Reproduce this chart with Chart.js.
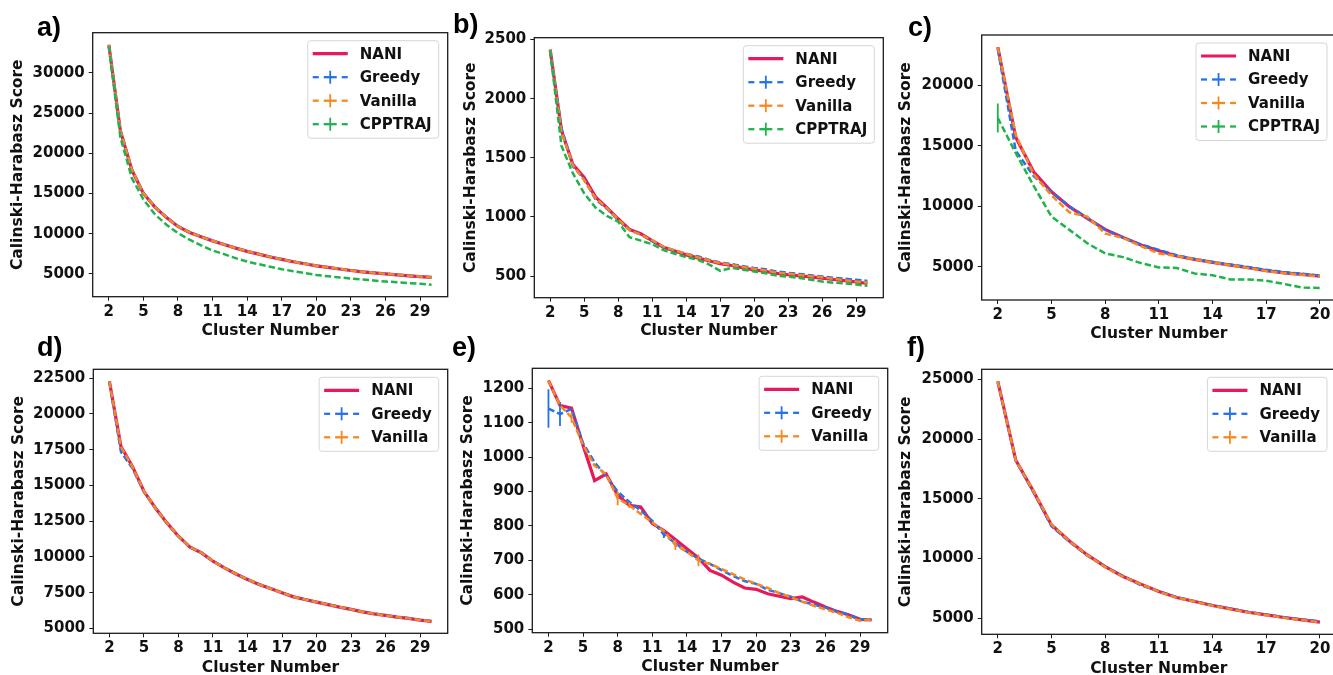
<!DOCTYPE html>
<html>
<head>
<meta charset="utf-8">
<script src="https://cdn.jsdelivr.net/npm/chart.js@4.4.1/dist/chart.umd.min.js"></script>
<style>
html,body{margin:0;padding:0;width:1333px;height:675px;overflow:hidden;background:#fff}
canvas{position:absolute}
.lbl{position:absolute;font-family:"Liberation Sans",Arial,sans-serif;font-weight:bold;font-size:27px;line-height:27px;color:#000;white-space:nowrap}
</style>
</head>
<body>
<script>
// ---------------- categories / ticks ----------------
const CLUSTERS_30 = [2,3,4,5,6,7,8,9,10,11,12,13,14,15,16,17,18,19,20,21,22,23,24,25,26,27,28,29,30];
const CLUSTERS_20 = [2,3,4,5,6,7,8,9,10,11,12,13,14,15,16,17,18,19,20];
const X_TICKS_30 = [2,5,8,11,14,17,20,23,26,29];
const X_TICKS_20 = [2,5,8,11,14,17,20];
const Y_TICKS_A = [5000,10000,15000,20000,25000,30000];
const Y_TICKS_B = [500,1000,1500,2000,2500];
const Y_TICKS_C = [5000,10000,15000,20000];
const Y_TICKS_D = [5000,7500,10000,12500,15000,17500,20000,22500];
const Y_TICKS_E = [500,600,700,800,900,1000,1100,1200];
const Y_TICKS_F = [5000,10000,15000,20000,25000];

// ---------------- panel a ----------------
const A_NANI    = [33500,22800,17900,15000,13300,12000,10900,10150,9600,9100,8650,8200,7800,7450,7100,6800,6500,6250,6000,5800,5600,5420,5250,5120,5000,4880,4750,4650,4550];
const A_GREEDY  = [33450,22900,18000,15050,13350,12050,10950,10200,9620,9120,8670,8220,7820,7470,7120,6820,6520,6270,6020,5820,5620,5440,5270,5140,5020,4900,4770,4670,4570];
const A_VANILLA = [33480,22850,17950,15020,13320,12020,10920,10170,9610,9110,8660,8210,7810,7460,7110,6810,6510,6260,6010,5810,5610,5430,5260,5130,5010,4890,4760,4660,4560];
const A_CPPTRAJ = [33300,22000,16900,14250,12400,11100,10050,9250,8550,7900,7450,6950,6530,6200,5880,5580,5330,5100,4870,4700,4560,4420,4300,4170,4050,3950,3850,3760,3650];

// ---------------- panel b ----------------
const B_NANI    = [2415,1730,1445,1335,1170,1080,985,895,858,800,745,712,680,655,630,605,590,570,553,540,523,512,503,494,483,472,462,452,438];
const B_GREEDY  = [2405,1750,1430,1320,1150,1070,975,890,852,795,745,715,690,668,640,615,602,585,570,558,540,528,518,508,497,487,478,470,460];
const B_VANILLA = [2410,1720,1440,1310,1160,1075,980,888,850,805,750,718,688,660,635,610,595,578,562,548,530,520,510,500,490,478,466,455,445];
const B_CPPTRAJ = [2405,1600,1370,1200,1080,1010,960,830,800,770,720,690,660,640,600,545,570,555,540,525,505,495,485,470,455,445,440,430,418];

// ---------------- panel c ----------------
const C_NANI    = [23160,15700,12850,11200,9960,9000,8090,7430,6800,6330,5890,5610,5360,5140,4920,4680,4500,4370,4230];
const C_GREEDY  = [23000,14600,12500,11150,10000,9050,8050,7400,6850,6400,5950,5650,5400,5180,4980,4750,4560,4420,4280];
const C_VANILLA = [23150,15900,12650,10900,9500,9150,7750,7380,6700,6100,5900,5620,5350,5120,4900,4650,4480,4340,4200];
const C_CPPTRAJ = [17300,14400,11700,9150,8050,6950,6100,5800,5300,4950,4900,4450,4300,3950,3950,3850,3580,3280,3250];
const C_CPPTRAJ_ERR = [1200,0,0,0,0,0,0,0,0,0,0,0,0,0,0,0,0,0,0];

// ---------------- panel d ----------------
const D_NANI    = [22280,17730,16330,14590,13420,12380,11450,10680,10280,9700,9230,8810,8420,8070,7790,7490,7210,7020,6840,6670,6490,6330,6160,6020,5910,5790,5700,5580,5500];
const D_GREEDY  = [22250,17350,16200,14550,13400,12350,11430,10700,10300,9720,9240,8830,8440,8090,7800,7500,7220,7030,6850,6680,6500,6340,6170,6030,5920,5800,5710,5590,5510];
const D_VANILLA = [22270,17700,16300,14600,13410,12370,11440,10690,10290,9710,9235,8820,8430,8080,7795,7495,7215,7025,6845,6675,6495,6335,6165,6025,5915,5795,5705,5585,5505];

// ---------------- panel e ----------------
const E_NANI    = [1223,1150,1142,1034,932,951,889,860,855,807,787,761,734,707,671,657,637,620,616,603,596,589,594,579,565,552,542,529,527];
const E_GREEDY  = [1141,1125,1140,1040,985,945,900,870,845,815,775,750,725,705,690,672,655,640,632,615,605,595,580,572,563,552,542,530,528];
const E_GREEDY_ERR  = [56,35,0,0,0,0,0,0,0,0,10,0,0,0,0,0,0,0,0,0,0,0,0,0,0,0,0,0,0];
const E_VANILLA = [1222,1150,1115,1035,975,950,880,860,835,810,785,745,725,700,690,675,660,645,632,620,605,593,580,568,558,548,535,525,528];
const E_VANILLA_ERR = [0,0,15,0,0,0,20,8,0,0,0,15,0,17,0,0,0,0,0,0,0,0,0,0,0,0,0,0,0];

// ---------------- panel f ----------------
const F_NANI    = [24830,18250,15600,12810,11470,10300,9320,8490,7850,7230,6730,6400,6060,5780,5500,5280,5060,4860,4670];
const F_GREEDY  = [24800,18200,15550,12700,11400,10250,9300,8520,7750,7250,6760,6420,6080,5800,5520,5300,5080,4890,4750];
const F_VANILLA = [24820,18230,15620,12850,11450,10280,9280,8470,7840,7220,6720,6390,6040,5760,5480,5260,5040,4850,4660];

// ---------------- styles ----------------
const STYLE = {
  'NANI':    {color:'#e6195a', width:3.2, dash:[],      order:4},
  'Greedy':  {color:'#2471e8', width:2.5, dash:[6.5,3], order:3},
  'Vanilla': {color:'#f5881f', width:2.5, dash:[6.5,3], order:2},
  'CPPTRAJ': {color:'#1fb34b', width:2.5, dash:[6.5,3], order:1}
};
const FONT = 'DejaVu Sans';

const PANELS = [
  {label:'a)', lx:37, lby:36.5, x:CLUSTERS_30, xt:X_TICKS_30, yt:Y_TICKS_A,
   geom:{plotL:92.7, plotT:32.7, plotR:447.7, plotB:296.7, yTitleX:18, xTitleY:330.7},
   series:[['NANI',A_NANI],['Greedy',A_GREEDY],['Vanilla',A_VANILLA],['CPPTRAJ',A_CPPTRAJ]]},
  {label:'b)', lx:453, lby:33.5, x:CLUSTERS_30, xt:X_TICKS_30, yt:Y_TICKS_B,
   geom:{plotL:534.3, plotT:37.7, plotR:883.3, plotB:297.7, yTitleX:471.5, xTitleY:331},
   series:[['NANI',B_NANI],['Greedy',B_GREEDY],['Vanilla',B_VANILLA],['CPPTRAJ',B_CPPTRAJ]]},
  {label:'c)', lx:908, lby:36.5, x:CLUSTERS_20, xt:X_TICKS_20, yt:Y_TICKS_C,
   geom:{plotL:981.7, plotT:35, plotR:1336, plotB:300, yTitleX:906.7, xTitleY:334},
   series:[['NANI',C_NANI],['Greedy',C_GREEDY],['Vanilla',C_VANILLA],['CPPTRAJ',C_CPPTRAJ,C_CPPTRAJ_ERR]]},
  {label:'d)', lx:37, lby:356.5, x:CLUSTERS_30, xt:X_TICKS_30, yt:Y_TICKS_D,
   geom:{plotL:93.3, plotT:369.3, plotR:447.7, plotB:633.3, yTitleX:19, xTitleY:667.3},
   series:[['NANI',D_NANI],['Greedy',D_GREEDY],['Vanilla',D_VANILLA]]},
  {label:'e)', lx:452, lby:356.5, x:CLUSTERS_30, xt:X_TICKS_30, yt:Y_TICKS_E,
   geom:{plotL:532.3, plotT:368.3, plotR:887.7, plotB:632.7, yTitleX:468.3, xTitleY:666.7},
   series:[['NANI',E_NANI],['Greedy',E_GREEDY,E_GREEDY_ERR],['Vanilla',E_VANILLA,E_VANILLA_ERR]]},
  {label:'f)', lx:907, lby:356.5, x:CLUSTERS_20, xt:X_TICKS_20, yt:Y_TICKS_F,
   geom:{plotL:981.7, plotT:369.3, plotR:1336, plotB:634.3, yTitleX:906.7, xTitleY:668.3},
   series:[['NANI',F_NANI],['Greedy',F_GREEDY],['Vanilla',F_VANILLA]]}
];

// ---------------- plugins ----------------
const errorBarPlugin = {
  id:'errbars',
  afterDatasetDraw(chart, args){
    const ds = chart.data.datasets[args.index];
    if(!ds.errorBars) return;
    const ctx = chart.ctx, xs = chart.scales.x, ys = chart.scales.y;
    ctx.save();
    ctx.beginPath();
    ctx.rect(chart.chartArea.left, chart.chartArea.top, chart.chartArea.width, chart.chartArea.height);
    ctx.clip();
    ctx.strokeStyle = ds.borderColor; ctx.lineWidth = 1.8; ctx.setLineDash([]);
    ds.data.forEach((pt,i)=>{
      const e = ds.errorBars[i];
      if(!e) return;
      const px = xs.getPixelForValue(pt.x);
      ctx.beginPath();
      ctx.moveTo(px, ys.getPixelForValue(pt.y - e));
      ctx.lineTo(px, ys.getPixelForValue(pt.y + e));
      ctx.stroke();
    });
    ctx.restore();
  }
};

const legendPlugin = {
  id:'mplLegend',
  afterDatasetsDraw(chart){
    const ctx = chart.ctx, ca = chart.chartArea;
    const items = chart.data.datasets.map(d=>d.label);
    ctx.save();
    ctx.font = 'bold 15px "' + FONT + '"';
    let tw = 0; items.forEach(t=>{tw = Math.max(tw, ctx.measureText(t).width);});
    const w = 52 + tw + 7;
    const h = 13 + (items.length-1)*23.5 + 14;
    const bx = ca.right - 9 - w, by = ca.top + 8;
    ctx.beginPath();
    if(ctx.roundRect) ctx.roundRect(bx, by, w, h, 3); else ctx.rect(bx,by,w,h);
    ctx.fillStyle = 'rgba(255,255,255,0.85)';
    ctx.fill();
    ctx.strokeStyle = '#d6d6d6'; ctx.lineWidth = 1;
    ctx.stroke();
    items.forEach((t,i)=>{
      const st = STYLE[t];
      const cy = by + 13 + i*23.5;
      ctx.strokeStyle = st.color;
      ctx.setLineDash([]);
      const x0 = bx + 5;
      if(!st.dash.length){
        ctx.lineWidth = st.width;
        ctx.beginPath(); ctx.moveTo(x0, cy); ctx.lineTo(x0+35, cy); ctx.stroke();
      } else {
        ctx.lineWidth = 2.3;
        [[0,6],[11,24],[29,35]].forEach(seg=>{
          ctx.beginPath(); ctx.moveTo(x0+seg[0], cy); ctx.lineTo(x0+seg[1], cy); ctx.stroke();
        });
        ctx.lineWidth = 1.8;
        ctx.beginPath(); ctx.moveTo(x0+17.5, cy-6.5); ctx.lineTo(x0+17.5, cy+6.5); ctx.stroke();
      }
      ctx.fillStyle = '#111';
      ctx.textBaseline = 'middle'; ctx.textAlign = 'left';
      ctx.fillText(t, bx+52, cy+1);
    });
    ctx.restore();
  }
};

const framePlugin = {
  id:'frame',
  afterDraw(chart){
    const ctx = chart.ctx, ca = chart.chartArea;
    ctx.save();
    ctx.strokeStyle = '#1a1a1a'; ctx.lineWidth = 1.3;
    ctx.strokeRect(ca.left, ca.top, ca.width, ca.height);
    ctx.restore();
  }
};

// ---------------- build ----------------
function makePanel(p){
  const g = p.geom;
  const cl = Math.round(g.yTitleX - 9.3);
  const ct = Math.round(g.plotT - 14);
  const cw = Math.ceil(g.plotR + 14 - cl);
  const ch = Math.round(g.xTitleY + 9.3 - ct);
  const yW = g.plotL - cl;
  const padTop = g.plotT - ct;
  const padRight = cl + cw - g.plotR;
  const xH = ct + ch - g.plotB;

  const cv = document.createElement('canvas');
  cv.width = cw; cv.height = ch;
  cv.style.left = cl + 'px'; cv.style.top = ct + 'px';
  cv.style.width = cw + 'px'; cv.style.height = ch + 'px';
  document.body.appendChild(cv);

  const lbl = document.createElement('div');
  lbl.className = 'lbl';
  lbl.textContent = p.label;
  lbl.style.left = p.lx + 'px';
  lbl.style.top = (p.lby - 22.8) + 'px';
  document.body.appendChild(lbl);

  const xs = p.x;
  const xmin = xs[0] - 0.05*(xs[xs.length-1]-xs[0]);
  const xmax = xs[xs.length-1] + 0.05*(xs[xs.length-1]-xs[0]);
  let lo = Infinity, hi = -Infinity;
  p.series.forEach(s=>{
    s[1].forEach((v,i)=>{
      const e = s[2] ? s[2][i] : 0;
      lo = Math.min(lo, v - e); hi = Math.max(hi, v + e);
    });
  });
  const ymin = lo - 0.05*(hi-lo), ymax = hi + 0.05*(hi-lo);

  const datasets = p.series.map(s=>{
    const st = STYLE[s[0]];
    return {
      label: s[0],
      data: xs.map((c,i)=>({x:c, y:s[1][i]})),
      errorBars: s[2] || null,
      borderColor: st.color,
      backgroundColor: st.color,
      borderWidth: st.width,
      borderDash: st.dash,
      pointRadius: 0,
      tension: 0,
      fill: false,
      order: st.order
    };
  });

  const tickFont = {family:FONT, weight:'bold', size:15};
  const titleFont = {family:FONT, weight:'bold', size:15.5};

  new Chart(cv, {
    type:'line',
    data:{datasets},
    options:{
      responsive:false,
      devicePixelRatio:1,
      animation:false,
      layout:{padding:{left:0, top:padTop, right:padRight, bottom:0}},
      plugins:{legend:{display:false}, tooltip:{enabled:false}},
      scales:{
        x:{
          type:'linear', min:xmin, max:xmax,
          afterBuildTicks(s){ s.ticks = p.xt.map(v=>({value:v})); },
          afterFit(s){ s.height = xH; },
          ticks:{font:tickFont, color:'#111', padding:2, autoSkip:false, maxRotation:0, callback:v=>String(v)},
          grid:{display:true, drawOnChartArea:false, drawTicks:true, tickLength:4, color:'#1a1a1a', lineWidth:1},
          border:{display:false},
          title:{display:true, text:'Cluster Number', font:titleFont, color:'#111', padding:0}
        },
        y:{
          type:'linear', min:ymin, max:ymax,
          afterBuildTicks(s){ s.ticks = p.yt.map(v=>({value:v})); },
          afterFit(s){ s.width = yW; },
          ticks:{font:tickFont, color:'#111', padding:4, autoSkip:false, callback:v=>String(v)},
          grid:{display:true, drawOnChartArea:false, drawTicks:true, tickLength:4, color:'#1a1a1a', lineWidth:1},
          border:{display:false},
          title:{display:true, text:'Calinski-Harabasz Score', font:titleFont, color:'#111', padding:0}
        }
      }
    },
    plugins:[errorBarPlugin, legendPlugin, framePlugin]
  });
}
PANELS.forEach(makePanel);
</script>
</body>
</html>
